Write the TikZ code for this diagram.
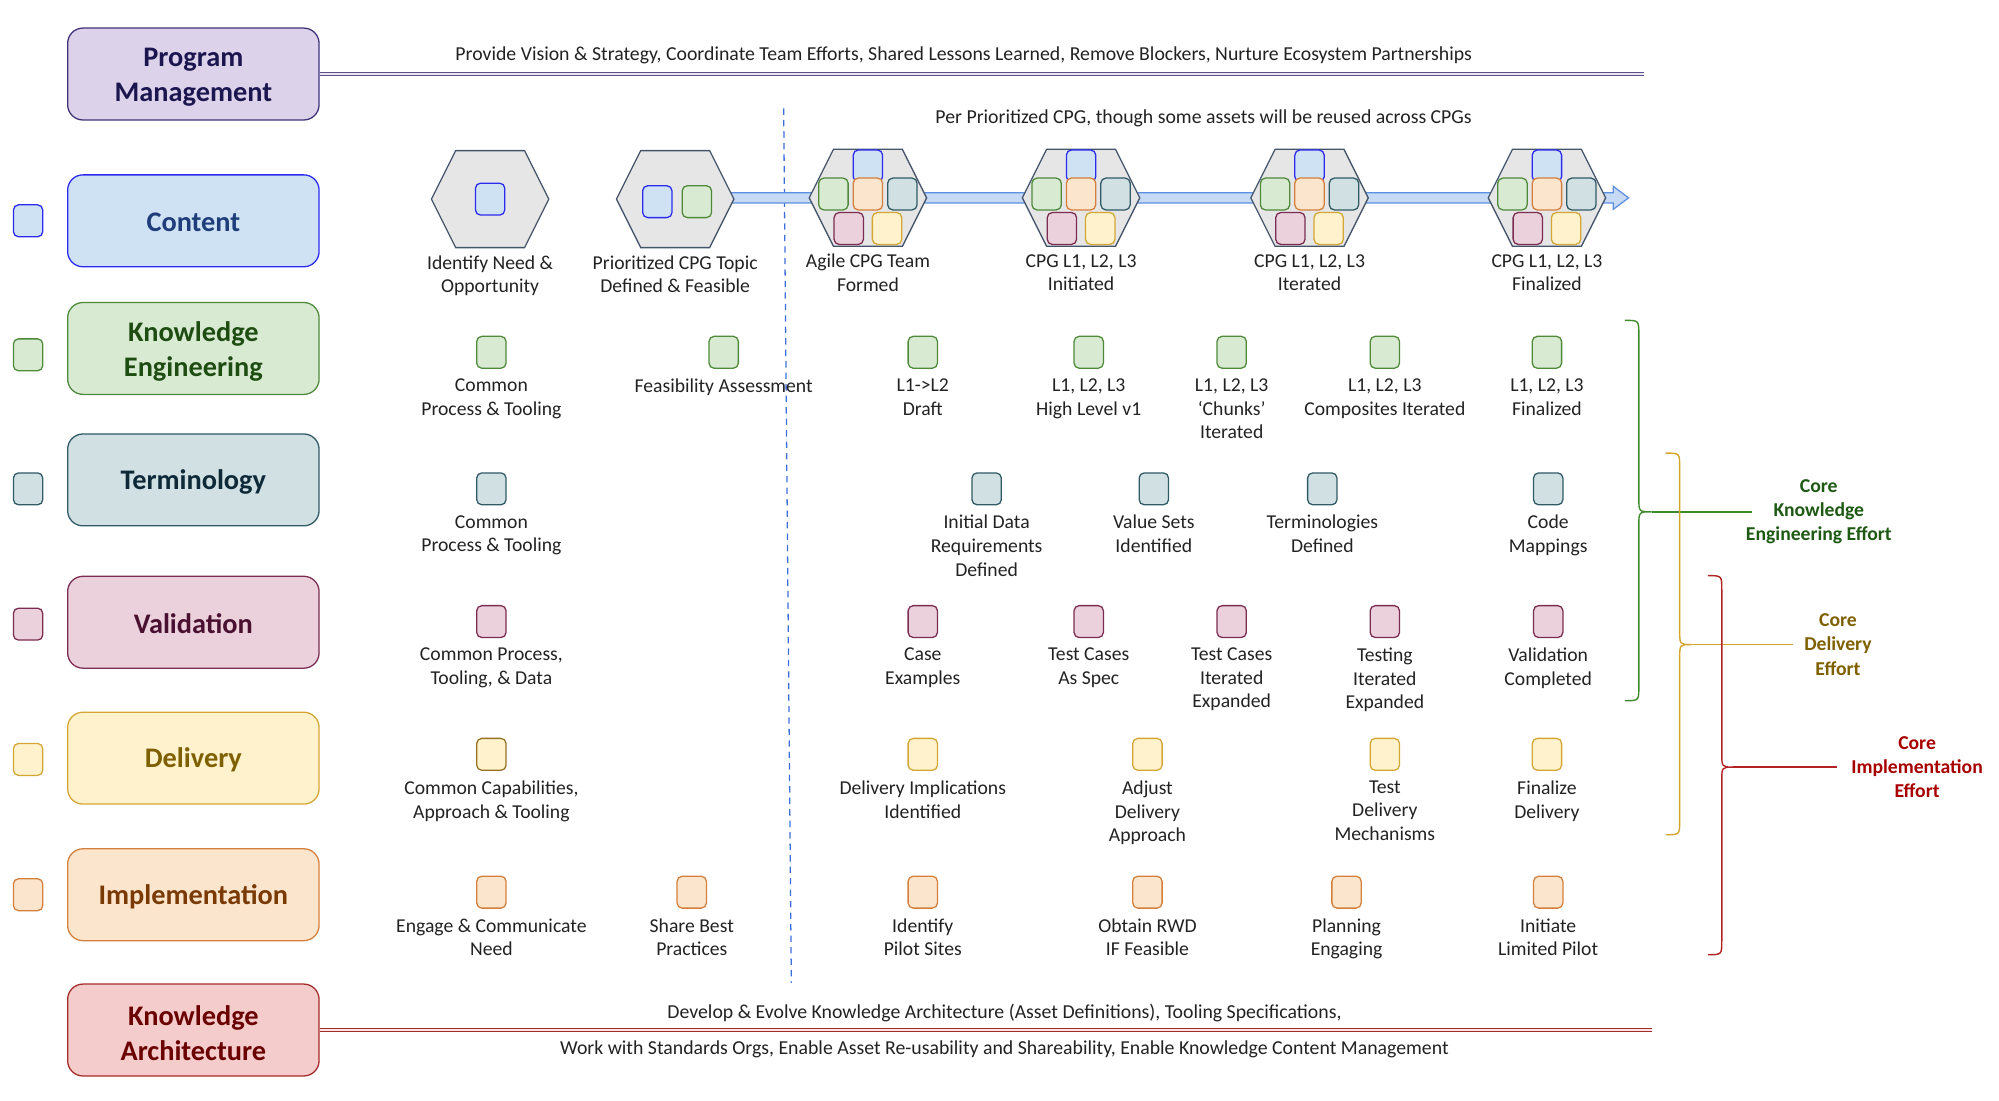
\documentclass[tikz,border=0pt]{standalone}
\usepackage{fontspec}
\setmainfont{Carlito}
\usetikzlibrary{positioning}
\definecolor{pmF}{HTML}{DCD3EA}\definecolor{pmD}{HTML}{3F3277}\definecolor{pmT}{HTML}{1C1650}
\definecolor{coF}{HTML}{CFE2F3}\definecolor{coD}{HTML}{2B2BF0}\definecolor{coT}{HTML}{1F3D7A}
\definecolor{keF}{HTML}{D9EAD3}\definecolor{keD}{HTML}{4E8A3A}\definecolor{keT}{HTML}{1E4D12}
\definecolor{teF}{HTML}{D0E0E3}\definecolor{teD}{HTML}{2F5A66}\definecolor{teT}{HTML}{0E2A38}
\definecolor{vaF}{HTML}{EAD1DC}\definecolor{vaD}{HTML}{7B2C50}\definecolor{vaT}{HTML}{4A1030}
\definecolor{deF}{HTML}{FFF2CC}\definecolor{deD}{HTML}{D4A634}\definecolor{deT}{HTML}{7F6000}
\definecolor{imF}{HTML}{FCE5CD}\definecolor{imD}{HTML}{D4803C}\definecolor{imT}{HTML}{7A3A06}
\definecolor{kaF}{HTML}{F4CCCC}\definecolor{kaD}{HTML}{A52A2A}\definecolor{kaT}{HTML}{6A0000}
\definecolor{hexF}{HTML}{E7E6E6}\definecolor{hexD}{HTML}{44546A}
\definecolor{bandF}{HTML}{C6D9F5}\definecolor{bandD}{HTML}{5B8FE0}
\definecolor{dashC}{HTML}{3C6FD8}\definecolor{bodyT}{HTML}{222222}
\definecolor{brG}{HTML}{3E8A2C}\definecolor{brY}{HTML}{D4A52A}\definecolor{brR}{HTML}{B22222}
\definecolor{lbG}{HTML}{1E5A14}\definecolor{lbY}{HTML}{7F6000}\definecolor{lbR}{HTML}{A80000}
\newcommand\hexat[1]{\draw[hexs] ([shift={(-46,0)}]#1) -- ([shift={(-27,-38)}]#1) -- ([shift={(27,-38)}]#1) -- ([shift={(46,0)}]#1) -- ([shift={(27,38)}]#1) -- ([shift={(-27,38)}]#1) -- cycle;}
\newcommand\fullset[1]{%
  \node[msq,cont] (#1a) at ([shift={(0,-25)}]#1) {};
  \node[msq,kes] (#1b) at ([shift={(-27,-3)}]#1) {};
  \node[msq,imp] (#1c) at ([shift={(0,-3)}]#1) {};
  \node[msq,ter] (#1d) at ([shift={(27,-3)}]#1) {};
  \node[msq,val] (#1e) at ([shift={(-15,24)}]#1) {};
  \node[msq,del] (#1f) at ([shift={(15,24)}]#1) {};}
\begin{document}
\begin{tikzpicture}[x=1pt,y=-1pt,
  lbox/.style={rounded corners=12pt, minimum width=197pt, minimum height=72pt, line width=1pt},
  btxt/.style={align=center, inner sep=0pt, font=\bfseries\fontsize{22.2}{27}\selectfont},
  msq/.style={rounded corners=4pt, minimum width=23pt, minimum height=25pt, inner sep=0pt, line width=1pt},
  cont/.style={fill=coF, draw=coD}, kes/.style={fill=keF, draw=keD}, ter/.style={fill=teF, draw=teD},
  val/.style={fill=vaF, draw=vaD}, del/.style={fill=deF, draw=deD}, imp/.style={fill=imF, draw=imD},
  lbl/.style={align=center, inner sep=0pt, text=bodyT, font=\fontsize{15.4}{18.5}\selectfont},
  txt/.style={inner sep=0pt, text=bodyT, font=\fontsize{15.5}{18}\selectfont},
  hexs/.style={fill=hexF, draw=hexD, line width=1pt},
  dbl/.style={line width=1pt, double distance=1.6pt},
  brace/.style={line width=1.1pt},
  blab/.style={align=center, inner sep=0pt, font=\bfseries\fontsize{15.4}{19}\selectfont}]
\useasboundingbox (0,0) rectangle (1566.2,862.6);
% left category boxes
\node[lbox, fill=pmF, draw=pmD] (pm) at (151.5,58) {};
\node[lbox, fill=coF, draw=coD] (co) at (151.5,173) {};
\node[lbox, fill=keF, draw=keD] (ke) at (151.5,273) {};
\node[lbox, fill=teF, draw=teD] (te) at (151.5,376) {};
\node[lbox, fill=vaF, draw=vaD] (va) at (151.5,487.5) {};
\node[lbox, fill=deF, draw=deD] (de) at (151.5,594) {};
\node[lbox, fill=imF, draw=imD] (im) at (151.5,701) {};
\node[lbox, fill=kaF, draw=kaD] (ka) at (151.5,807) {};
\node[btxt, text=pmT] (pmt) at ([yshift=-2.5pt]pm.center) {Program\\Management};
\node[btxt, text=coT] (cot) at ([yshift=-1.5pt]co.center) {Content};
\node[btxt, text=keT] (ket) at ([yshift=-2.5pt]ke.center) {Knowledge\\Engineering};
\node[btxt, text=teT] (tet) at ([yshift=-1.5pt]te.center) {Terminology};
\node[btxt, text=vaT] (vat) at ([yshift=-1pt]va.center) {Validation};
\node[btxt, text=deT] (det) at ([yshift=-1.5pt]de.center) {Delivery};
\node[btxt, text=imT] (imt) at ([yshift=-1.5pt]im.center) {Implementation};
\node[btxt, text=kaT] (kat) at ([yshift=-2.5pt]ka.center) {Knowledge\\Architecture};
% left legend squares
\node[msq,cont] (lco) at (22,173) {};
\node[msq,kes] (lke) at (22,278) {};
\node[msq,ter] (lte) at (22,383) {};
\node[msq,val] (lva) at (22,489) {};
\node[msq,del] (lde) at (22,595) {};
\node[msq,imp] (lim) at (22,701) {};
% program management and architecture lines
\coordinate (pmend) at (1288,58);
\coordinate (kaend) at (1294,807);
\draw[dbl, draw=pmD!85, double=pmF!60] (pm.east) -- (pmend);
\draw[dbl, draw=kaD, double=kaF!50] (ka.east) -- (kaend);
\node[txt] (pmtxt) at (755,43.5) {Provide Vision \& Strategy, Coordinate Team Efforts, Shared Lessons Learned, Remove Blockers, Nurture Ecosystem Partnerships};
\node[txt] (katxt1) at (787,794) {Develop \& Evolve Knowledge Architecture (Asset Definitions), Tooling Specifications,};
\node[txt] (katxt2) at (787,822) {Work with Standards Orgs, Enable Asset Re-usability and Shareability, Enable Knowledge Content Management};
\node[txt] (pertxt) at (943,92.5) {Per Prioritized CPG, though some assets will be reused across CPGs};
% dashed divider
\coordinate (dtop) at (614,85);
\coordinate (dbot) at (620,770);
\draw[dashC, line width=1pt, dash pattern=on 5pt off 4pt] (dtop) -- (dbot);
% hexagon centres
\coordinate (h1) at (384,156);
\coordinate (h2) at (529,156);
\coordinate (h3) at (680,155);
\coordinate (h4) at (847,155);
\coordinate (h5) at (1026,155);
\coordinate (h6) at (1212,155);
% blue timeline arrow
\draw[fill=bandF, draw=bandD, line width=1pt] (529,151) -- (1264,151) -- (1264,146) -- (1276,155) -- (1264,164) -- (1264,159) -- (529,159) -- cycle;
\hexat{h1}\hexat{h2}\hexat{h3}\hexat{h4}\hexat{h5}\hexat{h6}
\node[msq,cont] (h1a) at (h1) {};
\node[msq,cont] (h2a) at ([shift={(-14,2)}]h2) {};
\node[msq,kes] (h2b) at ([shift={(17,2)}]h2) {};
\fullset{h3}\fullset{h4}\fullset{h5}\fullset{h6}
\node[lbl, anchor=north] (h1l) at ([yshift=-44pt]h1) {Identify Need \&\\Opportunity};
\node[lbl, anchor=north] (h2l) at ([yshift=-44pt]h2) {Prioritized CPG Topic\\Defined \& Feasible};
\node[lbl, anchor=north] (h3l) at ([yshift=-44pt]h3) {Agile CPG Team\\Formed};
\node[lbl, anchor=north] (h4l) at ([yshift=-44pt]h4) {CPG L1, L2, L3\\Initiated};
\node[lbl, anchor=north] (h5l) at ([yshift=-44pt]h5) {CPG L1, L2, L3\\Iterated};
\node[lbl, anchor=north] (h6l) at ([yshift=-44pt]h6) {CPG L1, L2, L3\\Finalized};
% knowledge engineering row
\node[msq,kes] (k1) at (385,276) {}; \node[lbl, below=7.5pt of k1] (k1l) {Common\\Process \& Tooling};
\node[msq,kes] (k2) at (567,276) {}; \node[lbl, below=7.5pt of k2] (k2l) {Feasibility Assessment};
\node[msq,kes] (k3) at (723,276) {}; \node[lbl, below=7.5pt of k3] (k3l) {L1->L2\\Draft};
\node[msq,kes] (k4) at (853,276) {}; \node[lbl, below=7.5pt of k4] (k4l) {L1, L2, L3\\High Level v1};
\node[msq,kes] (k5) at (965,276) {}; \node[lbl, below=7.5pt of k5] (k5l) {L1, L2, L3\\‘Chunks’\\Iterated};
\node[msq,kes] (k6) at (1085,276) {}; \node[lbl, below=7.5pt of k6] (k6l) {L1, L2, L3\\Composites Iterated};
\node[msq,kes] (k7) at (1212,276) {}; \node[lbl, below=7.5pt of k7] (k7l) {L1, L2, L3\\Finalized};
% terminology row
\node[msq,ter] (t1) at (385,383) {}; \node[lbl, below=7.5pt of t1] (t1l) {Common\\Process \& Tooling};
\node[msq,ter] (t2) at (773,383) {}; \node[lbl, below=7.5pt of t2] (t2l) {Initial Data\\Requirements\\Defined};
\node[msq,ter] (t3) at (904,383) {}; \node[lbl, below=7.5pt of t3] (t3l) {Value Sets\\Identified};
\node[msq,ter] (t4) at (1036,383) {}; \node[lbl, below=7.5pt of t4] (t4l) {Terminologies\\Defined};
\node[msq,ter] (t5) at (1213,383) {}; \node[lbl, below=7.5pt of t5] (t5l) {Code\\Mappings};
% validation row
\node[msq,val] (v1) at (385,487) {}; \node[lbl, below=7.5pt of v1] (v1l) {Common Process,\\Tooling, \& Data};
\node[msq,val] (v2) at (723,487) {}; \node[lbl, below=7.5pt of v2] (v2l) {Case\\Examples};
\node[msq,val] (v3) at (853,487) {}; \node[lbl, below=7.5pt of v3] (v3l) {Test Cases\\As Spec};
\node[msq,val] (v4) at (965,487) {}; \node[lbl, below=7.5pt of v4] (v4l) {Test Cases\\Iterated\\Expanded};
\node[msq,val] (v5) at (1085,487) {}; \node[lbl, below=7.5pt of v5] (v5l) {Testing\\Iterated\\Expanded};
\node[msq,val] (v6) at (1213,487) {}; \node[lbl, below=7.5pt of v6] (v6l) {Validation\\Completed};
% delivery row
\node[msq,del, draw=deD!70!black] (d1) at (385,591) {}; \node[lbl, below=7.5pt of d1] (d1l) {Common Capabilities,\\Approach \& Tooling};
\node[msq,del] (d2) at (723,591) {}; \node[lbl, below=7.5pt of d2] (d2l) {Delivery Implications\\Identified};
\node[msq,del] (d3) at (899,591) {}; \node[lbl, below=7.5pt of d3] (d3l) {Adjust\\Delivery\\Approach};
\node[msq,del] (d4) at (1085,591) {}; \node[lbl, below=7.5pt of d4] (d4l) {Test\\Delivery\\Mechanisms};
\node[msq,del] (d5) at (1212,591) {}; \node[lbl, below=7.5pt of d5] (d5l) {Finalize\\Delivery};
% implementation row
\node[msq,imp] (i1) at (385,699) {}; \node[lbl, below=7.5pt of i1] (i1l) {Engage \& Communicate\\Need};
\node[msq,imp] (i2) at (542,699) {}; \node[lbl, below=7.5pt of i2] (i2l) {Share Best\\Practices};
\node[msq,imp] (i3) at (723,699) {}; \node[lbl, below=7.5pt of i3] (i3l) {Identify\\Pilot Sites};
\node[msq,imp] (i4) at (899,699) {}; \node[lbl, below=7.5pt of i4] (i4l) {Obtain RWD\\IF Feasible};
\node[msq,imp] (i5) at (1055,699) {}; \node[lbl, below=7.5pt of i5] (i5l) {Planning\\Engaging};
\node[msq,imp] (i6) at (1213,699) {}; \node[lbl, below=7.5pt of i6] (i6l) {Initiate\\Limited Pilot};
% braces
\coordinate (gcusp) at (1294,401); \coordinate (gend) at (1373,401);
\draw[brace, brG] (1273,251) .. controls (1284,251) .. (1284,262) -- (1284,390) .. controls (1284,401) .. (gcusp) .. controls (1284,401) .. (1284,412) -- (1284,538) .. controls (1284,549) .. (1273,549);
\draw[brace, brG] (gcusp) -- (gend);
\node[blab, text=lbG] (glab) at (1425,401) {Core\\Knowledge\\Engineering Effort};
\coordinate (ycusp) at (1325,505); \coordinate (yend) at (1405,505);
\draw[brace, brY] (1305,355) .. controls (1316,355) .. (1316,366) -- (1316,494) .. controls (1316,505) .. (ycusp) .. controls (1316,505) .. (1316,516) -- (1316,643) .. controls (1316,654) .. (1305,654);
\draw[brace, brY] (ycusp) -- (yend);
\node[blab, text=lbY] (ylab) at (1440,505) {Core\\Delivery\\Effort};
\coordinate (rcusp) at (1358,601); \coordinate (rend) at (1439,601);
\draw[brace, brR] (1338,451) .. controls (1349,451) .. (1349,462) -- (1349,590) .. controls (1349,601) .. (rcusp) .. controls (1349,601) .. (1349,612) -- (1349,737) .. controls (1349,748) .. (1338,748);
\draw[brace, brR] (rcusp) -- (rend);
\node[blab, text=lbR] (rlab) at (1502,601) {Core\\Implementation\\Effort};
\end{tikzpicture}
\end{document}
